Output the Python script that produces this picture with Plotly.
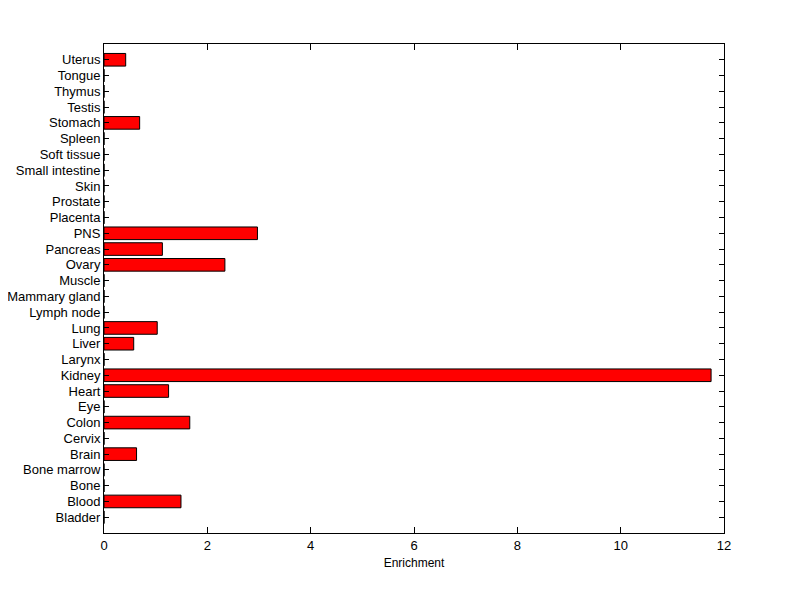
import plotly.graph_objects as go

tissues = ["Bladder", "Blood", "Bone", "Bone marrow", "Brain", "Cervix", "Colon", "Eye",
           "Heart", "Kidney", "Larynx", "Liver", "Lung", "Lymph node", "Mammary gland",
           "Muscle", "Ovary", "Pancreas", "PNS", "Placenta", "Prostate", "Skin",
           "Small intestine", "Soft tissue", "Spleen", "Stomach", "Testis", "Thymus",
           "Tongue", "Uterus"]
enrichment = [0, 1.49, 0, 0, 0.63, 0, 1.66, 0,
              1.25, 11.75, 0, 0.575, 1.03, 0, 0,
              0, 2.34, 1.13, 2.97, 0, 0, 0,
              0, 0, 0, 0.69, 0, 0,
              0, 0.42]
x_ticks = [0, 2, 4, 6, 8, 10, 12]

idx = list(range(len(tissues)))
fig = go.Figure(go.Bar(
    x=enrichment, y=idx, orientation="h", width=0.8,
    marker=dict(color="#ff0000", line=dict(color="black", width=1)),
))
fig.update_layout(
    width=800, height=599,
    margin=dict(l=96, r=84, t=36, b=74, autoexpand=False),
    paper_bgcolor="white", plot_bgcolor="white",
    font=dict(family="Liberation Sans, Arial, sans-serif", size=12, color="black"),
    showlegend=False,
)
fig.update_xaxes(
    range=[0, 12], tickvals=x_ticks, ticktext=[str(v) for v in x_ticks],
    ticks="inside", ticklen=6, tickcolor="black", showline=True, linecolor="black",
    linewidth=1, mirror="ticks", showgrid=False, zeroline=False,
    tickfont=dict(size=13),
    title=dict(text="Enrichment", standoff=7, font=dict(size=12)),
)
fig.update_yaxes(
    range=[-1, 30], tickvals=idx, ticktext=tissues,
    ticks="inside", ticklen=5, tickcolor="black", showline=True, linecolor="black",
    linewidth=1, mirror="ticks", showgrid=False, zeroline=False,
    tickfont=dict(size=13),
)
fig.write_html("out.html")
